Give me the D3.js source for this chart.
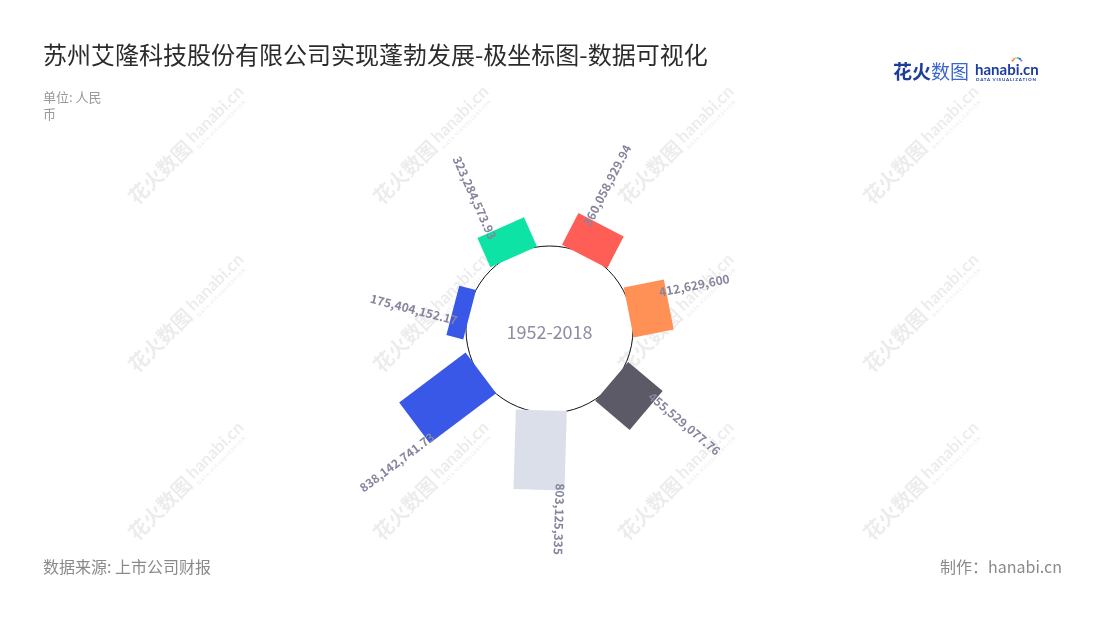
<!DOCTYPE html>
<html><head><meta charset="utf-8">
<script src="https://cdn.jsdelivr.net/npm/d3@7"></script>
<style>
body{margin:0;background:#fff;}
svg{display:block;font-family:"Noto Sans CJK SC","Noto Sans",sans-serif;}
</style>
</head><body><svg id="chart" width="1100" height="620"></svg>
<script>
// ---- data ----
const categories = ["项目1","项目2","项目3","项目4","项目5","项目6","项目7"];
const values = [175404152.17, 323284573.93, 360058929.94, 412629600, 455529077.76, 803125335, 838142741.73];
const colors = ["#3a58e8","#0de3a4","#ff5e57","#ff9157","#5b5a66","#dbdfea","#3a58e8"];
const centerLabel = "1952-2018";
const titleText = "苏州艾隆科技股份有限公司实现蓬勃发展-极坐标图-数据可视化";
const unitLines = ["单位: 人民","币"];
const sourceText = "数据来源: 上市公司财报";
const creditText = "制作：hanabi.cn";

// ---- layout ----
const W = 1100, H = 620;
const cx = 549.5, cy = 329.5;
const circleR = 83.5, innerR = 81, barW = 51;
const rotOffset = 1.7;               // small clockwise offset of the whole ring
const driftSlope = 0.1865, driftBase = -9.07; // tangential drift of a bar with its length
const slot = 360 / categories.length;
const svg = d3.select("#chart");

// watermarks
const wmXs = [183, 428, 673, 918], wmYs = [150, 318, 486];
const wm = svg.append("g").attr("fill", "#000").attr("opacity", 0.075);
wmYs.forEach(y => wmXs.forEach(x => {
  const g = wm.append("g").attr("transform", `translate(${x},${y}) rotate(-45)`);
  g.append("text").attr("x", -72).attr("y", 7).attr("font-size", 20).attr("font-weight", 700).text("花火数图");
  g.append("text").attr("x", 12).attr("y", 3).attr("font-size", 17).attr("font-weight", 700)
    .attr("font-family", "Lato, 'DejaVu Sans', sans-serif").text("hanabi.cn");
  g.append("text").attr("x", 12).attr("y", 11).attr("font-size", 5).attr("font-weight", 700)
    .attr("font-family", "Lato, 'DejaVu Sans', sans-serif").attr("textLength", 66).text("DATA VISUALIZATION");
}));

// title & texts
svg.append("text").attr("x", 43).attr("y", 64).attr("font-size", 24).attr("fill", "#2b2b2b").text(titleText);
unitLines.forEach((t, i) => svg.append("text").attr("x", 43).attr("y", 102 + i * 17)
  .attr("font-size", 13).attr("fill", "#999").text(t));
svg.append("text").attr("x", 43).attr("y", 573).attr("font-size", 16).attr("fill", "#8a8a8a").text(sourceText);
svg.append("text").attr("x", 1062).attr("y", 573).attr("text-anchor", "end").attr("font-size", 16)
  .attr("fill", "#8a8a8a").text(creditText);

// logo
const logo = svg.append("g");
logo.append("text").attr("x", 893).attr("y", 79).attr("font-size", 19).attr("font-weight", 700)
  .attr("fill", "#1c3d9c").text("花火");
logo.append("text").attr("x", 931).attr("y", 79).attr("font-size", 19)
  .attr("fill", "#3b66cf").text("数图");
logo.append("text").attr("x", 975).attr("y", 75).attr("font-size", 15).attr("font-weight", 700)
  .attr("font-family", "Lato, 'DejaVu Sans', sans-serif").attr("fill", "#1c3d9c").text("hanabi.cn");
logo.append("text").attr("x", 976).attr("y", 81).attr("font-size", 4.5).attr("font-weight", 700)
  .attr("font-family", "Lato, 'DejaVu Sans', sans-serif").attr("fill", "#1c3d9c")
  .attr("textLength", 60).text("DATA VISUALIZATION");
const dotColors = ["#ff5e57","#ff9157","#ffd43b","#0de3a4","#3a58e8","#9b59ff"];
dotColors.forEach((c, i) => {
  const a = (-150 + i * 24) * Math.PI / 180;
  logo.append("circle").attr("cx", 1017 + 5 * Math.cos(a)).attr("cy", 63 + 5 * Math.sin(a))
    .attr("r", 1.1).attr("fill", c);
});

// scales
const angle = d3.scaleBand().domain(categories).range([-2 * slot, 360 - 2 * slot]);
const rad = d3.scaleLinear().domain([0, d3.max(values)]).range([0, 83]);
const fmt = d3.format(",");
const midAngle = c => { const a = angle(c) + angle.bandwidth() / 2; return ((a % 360) + 360) % 360; };
const outward = c => midAngle(c) <= 180.001;

const chart = svg.append("g").attr("transform", `translate(${cx},${cy})`);
chart.append("circle").attr("r", circleR).attr("fill", "none").attr("stroke", "#111").attr("stroke-width", 1);

const data = categories.map((c, i) => ({ c, v: values[i], col: colors[i] }));
const bars = chart.selectAll("g.bar").data(data).join("g").attr("class", "bar")
  .attr("transform", d => `rotate(${midAngle(d.c) + rotOffset})`);
bars.append("rect")
  .attr("x", d => -barW / 2 + driftSlope * rad(d.v) + driftBase).attr("width", barW)
  .attr("y", d => -(innerR + rad(d.v))).attr("height", d => rad(d.v))
  .attr("fill", d => d.col);

bars.append("text")
  .attr("font-size", 12).attr("font-weight", 700).attr("fill", "#86859d")
  .attr("dy", "0.35em")
  .attr("text-anchor", d => outward(d.c) ? "start" : "end")
  .attr("transform", d => {
    const rl = innerR + rad(d.v) - 7;
    return `translate(-15,${-rl}) rotate(${outward(d.c) ? -90 : 90})`;
  })
  .text(d => fmt(d.v));

chart.append("text").attr("y", 3.5).attr("dy", "0.35em").attr("text-anchor", "middle")
  .attr("font-size", 18).attr("fill", "#8e8ca4").text(centerLabel);
</script>
</body></html>
